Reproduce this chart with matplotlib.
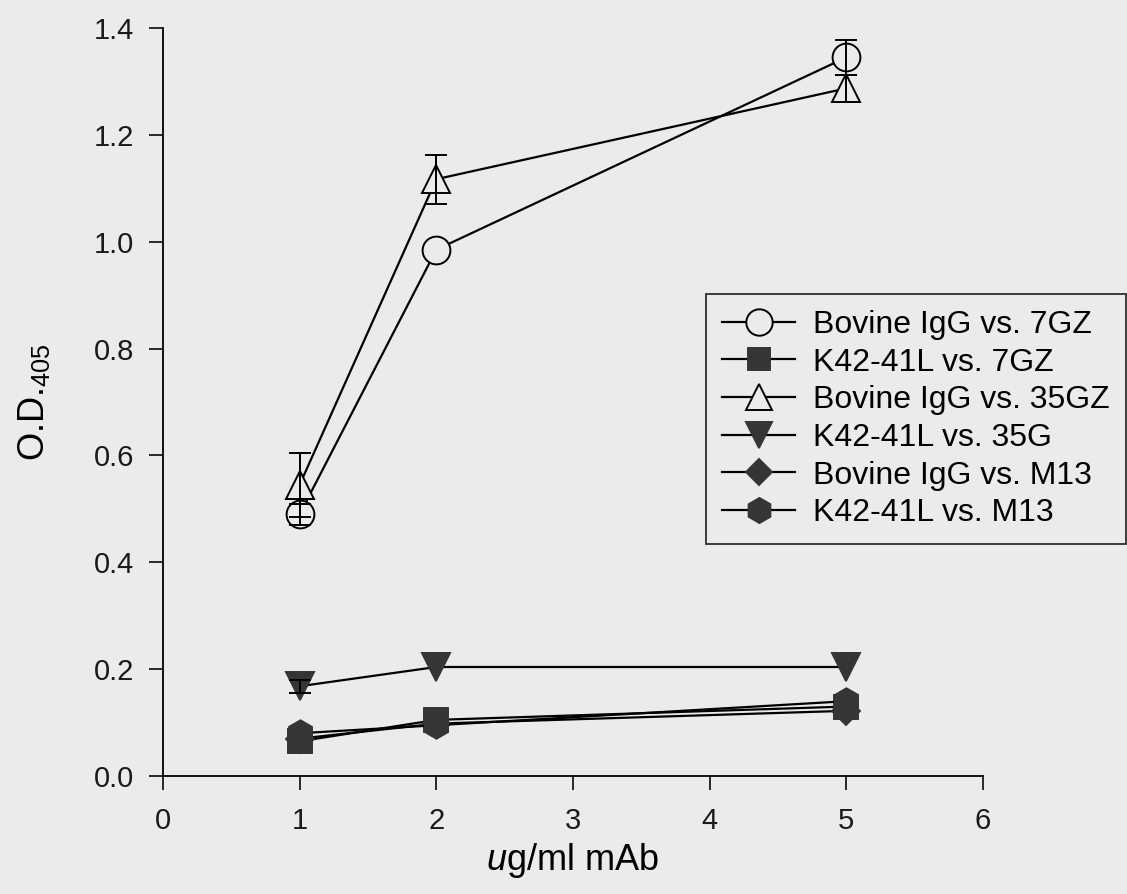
#!/usr/bin/env python3

from matplotlib import pyplot as plt
import numpy as np

'''
ELISA binding curves, O.D. 405 vs mAb concentration
'''

conc = [1, 2, 5]

igg_7gz      = [0.49, 0.985, 1.345]
igg_7gz_err  = [0.02, 0.0, 0.033]
k42_7gz      = [0.065, 0.105, 0.13]
igg_35gz     = [0.545, 1.117, 1.287]
igg_35gz_err = [0.06, 0.046, 0.025]
k42_35g      = [0.168, 0.204, 0.204]
k42_35g_err  = [0.012, 0.0, 0.0]
igg_m13      = [0.07, 0.098, 0.122]
k42_m13      = [0.08, 0.095, 0.14]

labels = ['Bovine IgG vs. 7GZ', 'K42-41L vs. 7GZ', 'Bovine IgG vs. 35GZ',
          'K42-41L vs. 35G', 'Bovine IgG vs. M13', 'K42-41L vs. M13']

bg   = '#ebebeb'
dark = '#353535'

plt.rcParams['font.family'] = ['Liberation Sans', 'DejaVu Sans']
plt.rcParams['mathtext.fontset'] = 'custom'
plt.rcParams['mathtext.rm'] = 'Liberation Sans'
plt.rcParams['mathtext.it'] = 'Liberation Sans:italic'

fig = plt.figure(figsize=(11.27, 8.94), dpi=100, facecolor=bg)
ax = fig.add_axes([0.1446, 0.132, 0.7276, 0.8367], facecolor=bg)

series = [
    (igg_7gz,  'o', bg,   20, igg_7gz_err),
    (k42_7gz,  's', dark, 17, None),
    (igg_35gz, '^', bg,   20, igg_35gz_err),
    (k42_35g,  'v', dark, 20, k42_35g_err),
    (igg_m13,  'D', dark, 14, None),
    (k42_m13,  'h', dark, 19, None),
]

for (vals, mk, fc, ms, err), lab in zip(series, labels):
    ax.plot(conc, vals, color='black', lw=1.6, marker=mk, markersize=ms,
            markerfacecolor=fc, markeredgecolor='black' if fc == bg else dark,
            markeredgewidth=1.4, label=lab, zorder=2)
    if err is not None:
        # only points that actually show an error bar
        keep = [i for i, e in enumerate(err) if e > 0]
        ax.errorbar([conc[i] for i in keep], [vals[i] for i in keep],
                    yerr=[err[i] for i in keep], fmt='none', ecolor='black',
                    elinewidth=1.4, capsize=8, capthick=1.4, zorder=3)

ax.set_xlim(0, 6)
ax.set_ylim(0, 1.4)
ax.set_xticks(np.arange(0, 7, 1))
ax.set_yticks(np.arange(0, 1.41, 0.2))
ax.set_yticklabels([f'{v:.1f}' for v in np.arange(0, 1.41, 0.2)])

for s in ['top', 'right']:
    ax.spines[s].set_visible(False)
for s in ['left', 'bottom']:
    ax.spines[s].set_linewidth(1.3)
ax.tick_params(axis='both', direction='out', length=10, width=1.3,
               labelsize=21, colors='#1a1a1a')
ax.tick_params(axis='x', pad=12)
ax.tick_params(axis='y', pad=11)

ax.set_xlabel(r'$\mathit{u}$g/ml mAb', fontsize=26, labelpad=5)
ax.set_ylabel(r'O.D.$_{405}$', fontsize=26, labelpad=30)

leg = ax.legend(loc='upper left', bbox_to_anchor=(706/1127, 1 - 294/894),
                bbox_transform=fig.transFigure, fontsize=23, frameon=True,
                fancybox=False, edgecolor='black', facecolor=bg,
                handlelength=2.3, handletextpad=0.55, labelspacing=0.24,
                borderpad=0.5, borderaxespad=0, markerscale=0.95)
leg.get_frame().set_linewidth(1.3)

plt.savefig('out.png', dpi=100, facecolor=bg)
